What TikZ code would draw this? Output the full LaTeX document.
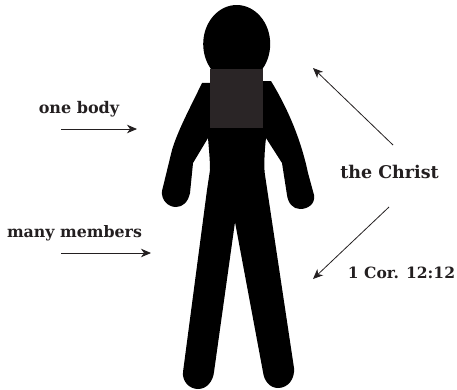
\documentclass[tikz,border=0pt]{standalone}
\usepackage{fontspec}
\setmainfont{DejaVu Serif}
\usetikzlibrary{arrows.meta}
\definecolor{ink}{HTML}{231F20}
\definecolor{patch}{HTML}{2A2526}
\tikzset{
  label text/.style={text=ink,font=\bfseries\fontsize{#1}{18}\selectfont,inner sep=0pt,anchor=base},
  pointer/.style={draw=ink,line width=0.8pt,-{Stealth[length=10pt,width=8.5pt,inset=3pt]}},
  body part/.style={fill=black,draw=none}
}
\begin{document}
\begin{tikzpicture}[x=1pt,y=-1pt]
\useasboundingbox (0,0) rectangle (457,389);
% figure
\fill[body part] (236.7,44) ellipse [x radius=33.5,y radius=39];
\fill[body part]
  (202,83) -- (271,81)
  .. controls (285,104) and (300,135) .. (308,173)
  -- (314,195)
  .. controls (315.5,204) and (308,209) .. (300,209)
  .. controls (293,209) and (288,203) .. (287,195)
  -- (282,163) -- (266,138)
  .. controls (264,155) and (264,170) .. (265,175)
  -- (294,368)
  .. controls (295,379) and (288,388) .. (278,388)
  .. controls (270,388) and (264,381) .. (263,372)
  -- (235,222) -- (214,372)
  .. controls (213,381) and (207,389) .. (198,389)
  .. controls (189,389) and (182,381) .. (183,372)
  -- (207,190) -- (210,170)
  .. controls (210,160) and (209,150) .. (208,138)
  -- (193,163) -- (190,193)
  .. controls (188,202) and (183,207) .. (176,207)
  .. controls (168,207) and (161,200) .. (162,191)
  -- (172,150)
  .. controls (178,130) and (190,108) .. (202,83) -- cycle;
\fill[patch] (210,69) rectangle (263,128);
% labels
\node[label text=16] (onebody) at (79,113) {one body};
\node[label text=15.8] (many) at (74.5,237) {many members};
\node[label text=17.5] (christ) at (389.5,178) {the Christ};
\node[label text=15.5] (cor) at (401.5,278) {1 Cor. 12:12};
% connector ends
\coordinate (a1) at (61,129);
\coordinate (a2) at (137,129);
\coordinate (b1) at (61,253);
\coordinate (b2) at (151,253);
\coordinate (c1) at (393,145);
\coordinate (c2) at (313,68);
\coordinate (d1) at (389,207);
\coordinate (d2) at (313,279);
\draw[pointer] (a1) -- (a2);
\draw[pointer] (b1) -- (b2);
\draw[pointer] (c1) -- (c2);
\draw[pointer] (d1) -- (d2);
\end{tikzpicture}
\end{document}
